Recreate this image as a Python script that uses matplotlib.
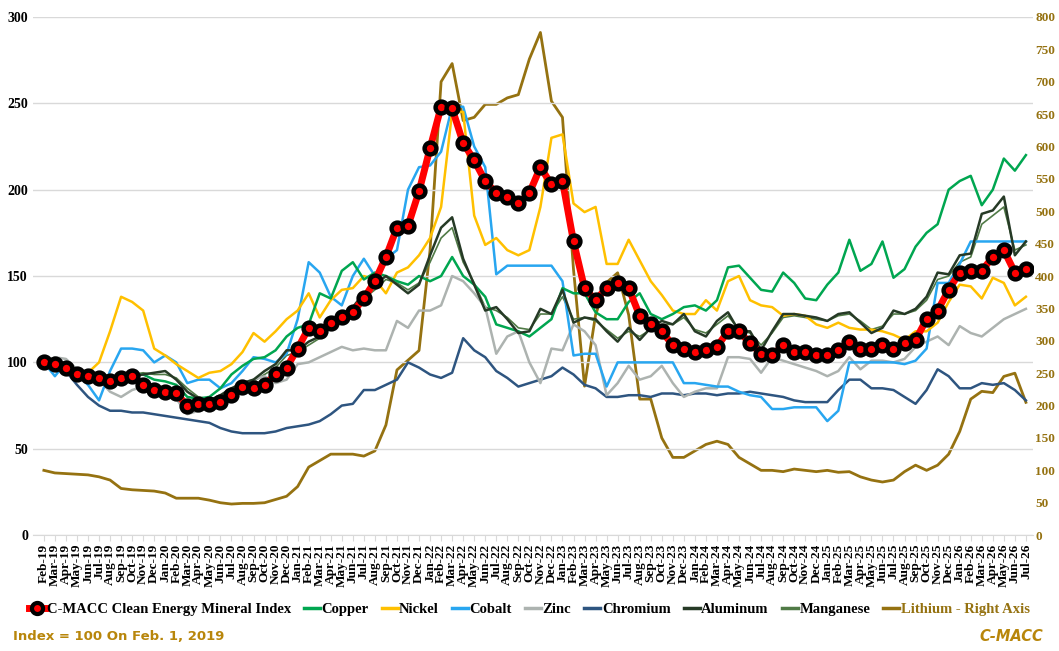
import matplotlib
matplotlib.use("Agg")
import matplotlib.pyplot as plt
from matplotlib.lines import Line2D

months = []
mn = ["Jan","Feb","Mar","Apr","May","Jun","Jul","Aug","Sep","Oct","Nov","Dec"]
for y in range(19, 27):
    for m in range(12):
        if (y == 19 and m == 0) or (y == 26 and m > 6):
            continue
        months.append(f"{mn[m]}-{y}")

index = [100,99,97,93,92,91,89,91,92,87,84,
         83,82,75,76,76,77,81,86,85,87,93,97,
         108,120,118,123,126,129,137,147,161,178,179,199,
         224,248,247,227,217,205,198,196,192,198,213,203,
         205,170,143,136,143,146,143,127,122,118,110,108,
         106,107,109,118,118,111,105,104,110,106,106,104,
         104,107,112,108,108,110,108,111,113,125,130,142,
         152,153,153,161,165,152,154]
copper = [100,97,98,95,92,90,88,90,92,93,90,
          89,87,80,79,80,85,93,98,102,103,107,115,
          120,122,140,137,153,158,148,152,150,147,145,150,
          147,150,161,150,145,138,122,120,118,115,120,125,
          143,140,140,129,125,125,135,140,128,125,128,132,
          133,130,136,155,156,149,142,141,152,146,137,136,
          145,152,171,153,157,170,149,154,167,175,180,200,
          205,208,191,200,218,211,220]
nickel = [100,97,98,94,94,100,118,138,135,130,108,
          104,99,95,91,94,95,99,106,117,112,118,125,
          130,140,126,136,142,143,150,148,140,152,155,162,
          172,190,245,245,185,168,172,165,162,165,190,230,
          232,192,187,190,157,157,171,159,147,139,130,128,
          128,136,130,147,150,136,133,132,127,128,127,122,
          120,123,120,119,119,118,116,113,118,118,123,135,
          145,144,137,149,146,133,138]
cobalt = [100,92,100,93,87,78,95,108,108,107,100,
          104,100,88,90,90,85,88,95,103,102,100,105,
          125,158,152,138,133,150,160,150,160,165,200,213,
          214,222,248,248,225,213,151,156,156,156,156,156,
          147,104,105,105,86,100,100,100,100,100,100,88,
          88,87,86,86,83,81,80,73,73,74,74,74,
          66,72,100,100,100,100,100,99,101,108,146,146,
          157,170,170,170,170,170,170]
zinc = [100,103,102,96,93,90,83,80,84,86,80,
        82,79,70,72,74,78,84,88,90,92,88,90,
        99,100,103,106,109,107,108,107,107,124,120,130,
        130,133,150,147,140,132,105,115,118,100,88,108,
        107,122,118,110,81,88,98,90,92,98,88,80,
        83,85,85,103,103,102,94,103,101,99,97,95,
        92,95,103,96,101,101,100,102,109,112,115,110,
        121,117,115,120,125,128,131]
chromium = [100,97,95,87,80,75,72,72,71,71,70,
            69,68,67,66,65,62,60,59,59,59,60,62,
            63,64,66,70,75,76,84,84,87,90,100,97,
            93,91,94,114,107,103,95,91,86,88,90,92,
            97,93,87,85,80,80,81,81,80,82,82,81,
            82,82,81,82,82,83,82,81,80,78,77,77,
            77,84,90,90,85,85,84,80,76,84,96,92,
            85,85,88,87,88,84,78]
aluminum = [100,98,97,92,92,93,92,92,92,93,94,
            95,90,83,79,78,81,85,88,90,95,99,107,
            107,112,115,123,127,132,140,145,150,145,140,145,
            162,178,184,160,145,130,132,125,117,118,131,128,
            142,123,126,125,118,112,120,113,120,124,122,128,
            118,115,124,129,118,118,107,118,128,128,127,126,
            124,128,129,123,117,120,130,128,131,138,152,151,
            162,163,186,188,196,162,170]
manganese = [100,99,97,93,92,92,91,92,93,94,93,
             93,91,85,80,79,80,84,87,89,93,97,104,
             106,110,114,120,125,130,137,142,148,146,142,146,
             158,172,178,158,146,132,130,126,120,119,128,128,
             138,125,126,124,119,114,118,115,119,122,122,126,
             119,117,122,127,119,117,110,117,126,127,126,125,
             124,127,128,124,119,121,128,128,130,136,148,150,
             158,161,180,185,190,165,168]
lithium = [100,96,95,94,93,90,85,72,70,69,68,
           65,57,57,57,54,50,48,49,49,50,55,60,
           75,105,115,125,125,125,122,130,170,255,270,285,
           440,700,728,640,645,665,665,675,680,735,776,670,
           645,410,230,340,390,405,340,210,210,150,120,120,
           130,140,145,140,120,110,100,100,98,102,100,98,
           100,97,98,90,85,82,85,98,108,100,108,125,
           160,210,222,220,245,250,205]

plt.rcParams['font.family'] = ['Liberation Serif', 'DejaVu Serif']
fig = plt.figure(figsize=(10.59, 6.51), dpi=100)
ax = fig.add_axes([0.031, 0.178, 0.944, 0.796])
ax2 = ax.twinx()
x = list(range(len(months)))
LI = '#957211'
ax2.plot(x, lithium, color=LI, lw=2, zorder=1)
ax.plot(x, manganese, color='#507A46', lw=1.2)
ax.plot(x, chromium, color='#2E5580', lw=1.8)
ax.plot(x, zinc, color='#ADB3B0', lw=1.8)
ax.plot(x, cobalt, color='#28A6F0', lw=1.8)
ax.plot(x, nickel, color='#FFC000', lw=1.8)
ax.plot(x, copper, color='#00A650', lw=1.8)
ax.plot(x, aluminum, color='#263A26', lw=1.8)
ax.plot(x, index, color='#FF0000', lw=5, marker='o', ms=8.5, mfc='#FF0000', mec='black', mew=3.2)
ax.set_zorder(ax2.get_zorder() + 1)
ax.patch.set_visible(False)

ax.set_xlim(-1.0, 89.6)
ax.set_ylim(0, 300)
ax2.set_ylim(0, 800)
ax.set_yticks(range(0, 301, 50))
ax2.set_yticks(range(0, 801, 50))
ax.set_xticks(x)
ax.set_xticklabels(months, rotation=90, fontsize=9.5, fontweight='bold')
for lab in ax.get_yticklabels():
    lab.set_fontweight('bold'); lab.set_fontsize(10)
for lab in ax2.get_yticklabels():
    lab.set_fontweight('bold'); lab.set_fontsize(9.5); lab.set_color(LI)
ax.grid(axis='y', color='#D9D9D9', lw=1)
ax.tick_params(axis='x', length=4, color='#D9D9D9', pad=2)
ax.tick_params(axis='y', length=0)
ax2.tick_params(axis='y', length=0, pad=2)
for a in (ax, ax2):
    for s in a.spines.values():
        s.set_visible(False)
ax.spines['bottom'].set_visible(True)
ax.spines['bottom'].set_color('#D9D9D9')

handles = [
    Line2D([], [], color='#FF0000', lw=5, marker='o', ms=8, mfc='#FF0000', mec='black', mew=3),
    Line2D([], [], color='#00A650', lw=2.5), Line2D([], [], color='#FFC000', lw=2.5),
    Line2D([], [], color='#28A6F0', lw=2.5), Line2D([], [], color='#ADB3B0', lw=2.5),
    Line2D([], [], color='#2E5580', lw=2.5), Line2D([], [], color='#263A26', lw=2.5),
    Line2D([], [], color='#507A46', lw=2.5), Line2D([], [], color=LI, lw=2.5)]
labels = ['C-MACC Clean Energy Mineral Index', 'Copper', 'Nickel', 'Cobalt', 'Zinc',
          'Chromium', 'Aluminum', 'Manganese', 'Lithium - Right Axis']
leg = fig.legend(handles, labels, loc='center', bbox_to_anchor=(0.5, 0.064), ncol=9,
                 frameon=False, prop={'weight': 'bold', 'size': 10.5},
                 handlelength=1.1, handletextpad=0.1, columnspacing=0.9)
leg.get_texts()[-1].set_color(LI)
fig.text(0.012, 0.022, 'Index = 100 On Feb. 1, 2019', fontsize=9.5, color='#B8860B',
         family='Liberation Sans Narrow', fontweight='bold', va='center')
fig.text(0.985, 0.022, 'C-MACC', fontsize=10.5, color='#B8860B', family='Liberation Sans Narrow',
         fontweight='bold', style='italic', ha='right', va='center')
fig.savefig('out.png', dpi=100)
